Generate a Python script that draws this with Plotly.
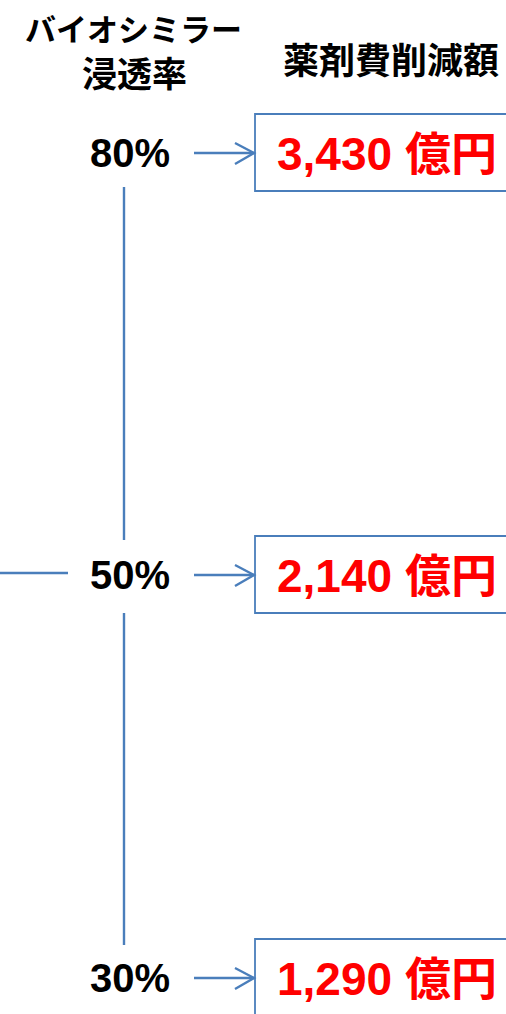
import plotly.graph_objects as go

# data
RATES = ["80%", "50%", "30%"]
SAVINGS = [3430, 2140, 1290]
UNIT = "億円"
HEAD_LEFT = ["バイオシミラー", "浸透率"]
HEAD_RIGHT = "薬剤費削減額"

BLUE = "#4a7ebb"
RED = "#ff0000"
W, H = 506, 1014
ROW_Y = [153, 575, 978]
LATIN = "Liberation Sans, Arial, Noto Sans CJK JP, sans-serif"
CJK = "Noto Sans CJK JP, sans-serif"

fig = go.Figure()

# blue connector lines
line = dict(color=BLUE, width=2.4)
shapes = [
    dict(type="line", x0=124, x1=124, y0=ROW_Y[0] + 34, y1=ROW_Y[1] - 35, line=line),
    dict(type="line", x0=124, x1=124, y0=ROW_Y[1] + 38, y1=ROW_Y[2] - 33, line=line),
    dict(type="line", x0=0, x1=68, y0=ROW_Y[1] - 2, y1=ROW_Y[1] - 2, line=line),
]
for y in ROW_Y:
    shapes.append(dict(type="line", x0=194, x1=254, y0=y, y1=y, line=line))
    shapes.append(dict(type="path", path=f"M 235 {y - 10} L 254 {y} L 235 {y + 11}", line=line))
    shapes.append(dict(type="rect", x0=255, x1=W + 20, y0=y - 39, y1=y + 38,
                       line=dict(color=BLUE, width=1.8), fillcolor="rgba(0,0,0,0)"))

annotations = [
    dict(x=133, y=27, text=f"<b>{HEAD_LEFT[0]}</b>", font=dict(family=CJK, size=31, color="black")),
    dict(x=134, y=71, text=f"<b>{HEAD_LEFT[1]}</b>", font=dict(family=CJK, size=35, color="black")),
    dict(x=391, y=58, text=f"<b>{HEAD_RIGHT}</b>", font=dict(family=CJK, size=36, color="black")),
]
for y, rate, value in zip(ROW_Y, RATES, SAVINGS):
    annotations.append(dict(x=130, y=y, text=f"<b>{rate}</b>",
                            font=dict(family=LATIN, size=40, color="black")))
    annotations.append(dict(x=275, y=y + 1, xanchor="left", text=f"<b>{value:,} {UNIT}</b>",
                            font=dict(family=LATIN, size=46, color=RED)))
for a in annotations:
    a.update(xref="x", yref="y", showarrow=False)
    a.setdefault("xanchor", "center")
    a["yanchor"] = "middle"

fig.update_layout(
    width=W,
    height=H,
    margin=dict(l=0, r=0, t=0, b=0),
    paper_bgcolor="white",
    plot_bgcolor="white",
    showlegend=False,
    shapes=shapes,
    annotations=annotations,
    xaxis=dict(range=[0, W], visible=False, fixedrange=True),
    yaxis=dict(range=[H, 0], visible=False, fixedrange=True),
)

fig.write_html(
    "out.html",
    config={"displayModeBar": False},
    post_script="document.body.style.margin='0';document.body.style.overflow='hidden';",
)
